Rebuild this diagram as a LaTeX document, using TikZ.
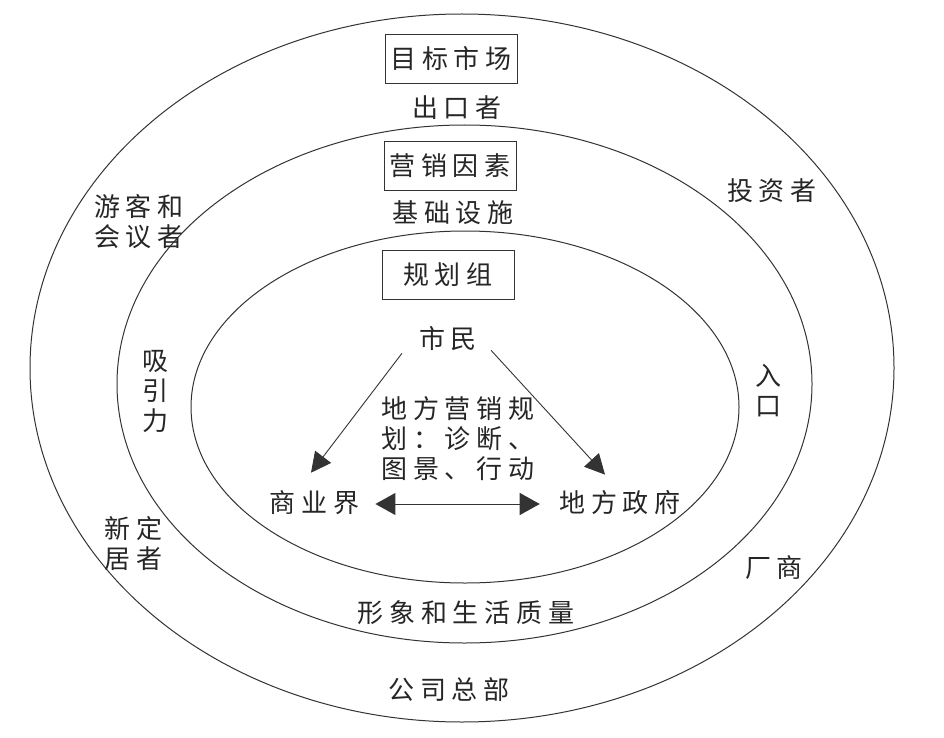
\documentclass[tikz,border=0pt]{standalone}
\usepackage{fontspec}
\setmainfont[LetterSpace=22]{Noto Sans CJK SC}
\usetikzlibrary{arrows.meta}
\begin{document}
\begin{tikzpicture}[x=1pt,y=-1pt,
        ring/.style={draw=black!80,line width=1pt},
        labelbox/.style={draw=black!80,line width=1pt,minimum width=132pt,minimum height=49pt},
        word/.style={font=\fontsize{26}{30}\selectfont,align=center,text=black!85,inner sep=0pt},
        flow/.style={draw=black!80,line width=0.9pt,-{Triangle[length=20pt,width=20pt]}},
        twoway/.style={draw=black!80,line width=0.9pt,{Triangle[length=20pt,width=22pt]}-{Triangle[length=20pt,width=22pt]}}]
    \useasboundingbox (0,0) rectangle (944,738);
    \fill[white] (0,0) rectangle (944,738);

    % rings
    \draw[ring] (462,368) ellipse [x radius=432,y radius=354];
    \draw[ring] (464.5,384) ellipse [x radius=347.5,y radius=259];
    \draw[ring] (465,407) ellipse [x radius=274,y radius=176];

    % boxes
    \node[labelbox,word] (market) at (451,59) {目标市场};
    \node[labelbox,word] (factor) at (450,166) {营销因素};
    \node[labelbox,word] (group) at (448,275) {规划组};

    % outer ring
    \node[word] (export) at (457,108) {出口者};
    \node[word] (invest) at (772,191) {投资者};
    \node[word] (tourist) at (139,222) {游客和\\会议者};
    \node[word] (settler) at (133.5,544) {新定\\居者};
    \node[word] (hq) at (449,690) {公司总部};

    % middle ring
    \node[word] (infra) at (453,213) {基础设施};
    \node[word] (attract) at (155,392) {吸\\引\\力};
    \node[word] (entry) at (768,391) {入\\口};
    \node[word] (maker) at (774,568) {厂商};
    \node[word] (image) at (466,613) {形象和生活质量};

    % inner ring
    \node[word] (citizen) at (448,339) {市民};
    \node[word] (plan) at (458,439) {地方营销规\\划：诊断、\\图景、行动};
    \node[word] (business) at (314.5,503) {商业界};
    \node[word] (gov) at (620,503) {地方政府};

    \draw[flow] ([shift={(-17pt,-2pt)}]citizen.south west) -- ([shift={(-3.5pt,18pt)}]business.north);
    \draw[flow] ([shift={(14pt,1pt)}]citizen.south east) -- ([shift={(-15pt,16pt)}]gov.north);
    \draw[twoway] ([shift={(16pt,-1pt)}]business.east) -- ([shift={(-19.5pt,-1pt)}]gov.west);
\end{tikzpicture}
\end{document}
